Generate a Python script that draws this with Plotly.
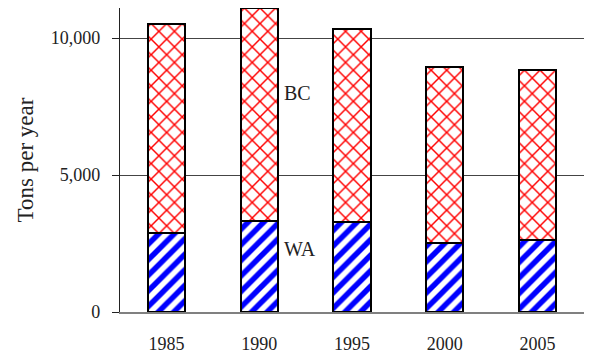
import plotly.graph_objects as go

# Annual tonnage by region, stacked per survey year
years = ["1985", "1990", "1995", "2000", "2005"]
wa_tons = [2870, 3330, 3290, 2530, 2640]
bc_tons = [7660, 7770, 7060, 6420, 6180]
series_names = ["WA", "BC"]
y_ticks = [0, 5000, 10000]
y_tick_text = ["0", "5,000", "10,000"]

SERIF = "Liberation Serif, Times New Roman, serif"

fig = go.Figure()

fig.add_trace(go.Bar(
    x=years, y=wa_tons, name=series_names[0],
    marker=dict(
        color="white",
        line=dict(color="black", width=2),
        pattern=dict(shape="/", fgcolor="#0000ff", bgcolor="white",
                     size=11, solidity=0.5, fillmode="replace"),
    ),
))
fig.add_trace(go.Bar(
    x=years, y=bc_tons, name=series_names[1],
    marker=dict(
        color="white",
        line=dict(color="black", width=2),
        pattern=dict(shape="x", fgcolor="#ff0000", bgcolor="white",
                     size=11, solidity=0.25, fillmode="replace"),
    ),
))

# Series labels placed beside the 1990 column (category index)
label_col = years.index("1990")
fig.add_annotation(x=label_col, y=8000, text="BC", showarrow=False,
                   xanchor="left", xshift=23, font=dict(family=SERIF, size=20, color="#222"))
fig.add_annotation(x=label_col, y=2300, text="WA", showarrow=False,
                   xanchor="left", xshift=23, font=dict(family=SERIF, size=20, color="#222"))

fig.update_layout(
    width=592, height=358,
    margin=dict(l=120, r=8, t=8, b=46),
    barmode="stack",
    bargap=0.6,
    showlegend=False,
    plot_bgcolor="white",
    paper_bgcolor="white",
    font=dict(family=SERIF, size=18, color="#222"),
)

fig.update_xaxes(
    type="category",
    range=[-0.5, len(years) - 0.5],
    automargin=False,
    showline=True, linecolor="#808080", linewidth=1.5,
    showgrid=False, ticks="", ticklabelstandoff=15,
    tickfont=dict(family=SERIF, size=18, color="#222"),
)
fig.update_yaxes(
    range=[0, 11100],
    automargin=False,
    tickvals=y_ticks, ticktext=y_tick_text,
    showline=True, linecolor="#222", linewidth=1.2,
    ticks="outside", ticklen=7, tickcolor="#222", tickwidth=1,
    ticklabelstandoff=8,
    showgrid=True, gridcolor="#444", gridwidth=1,
    zeroline=False,
    tickfont=dict(family=SERIF, size=18, color="#222"),
    title=dict(text="Tons per year", font=dict(family=SERIF, size=23, color="#222"),
               standoff=10),
)

fig.write_html("out.html")
